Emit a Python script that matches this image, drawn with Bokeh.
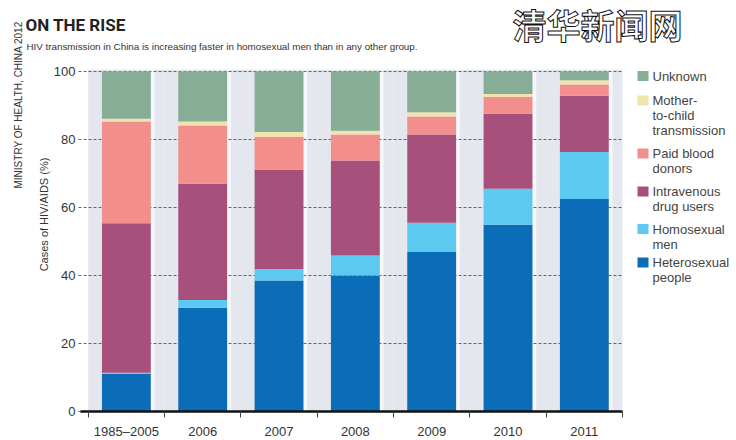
import math
from bokeh.plotting import figure
from bokeh.models import Range1d, FixedTicker, ColumnDataSource, Label, BoxAnnotation
from bokeh.embed import file_html
from bokeh.resources import INLINE

# ---------------- data ----------------
categories = ["1985\u20132005", "2006", "2007", "2008", "2009", "2010", "2011"]
heterosexual = [11.1, 30.5, 38.5, 40.0, 46.9, 54.9, 62.5]
homosexual = [0.3, 2.3, 3.4, 5.9, 8.6, 10.6, 13.8]
drug_users = [44.0, 34.2, 29.2, 27.9, 26.0, 22.1, 16.6]
blood_donors = [29.9, 17.1, 9.6, 7.7, 5.3, 4.9, 3.3]
mother_child = [0.8, 1.2, 1.5, 1.1, 1.2, 0.9, 1.2]
unknown = [13.9, 14.7, 17.8, 17.4, 12.0, 6.6, 2.6]
y_ticks = [0, 20, 40, 60, 80, 100]

series_keys = ["hetero", "homo", "idu", "blood", "mtc", "unknown"]
series_colors = ["#0b6db8", "#5cc9f1", "#a8507c", "#f28e8b", "#efe4ad", "#87ad96"]
legend_entries = [  # top to bottom
    (["Unknown"], "#87ad96"),
    (["Mother-", "to-child", "transmission"], "#efe4ad"),
    (["Paid blood", "donors"], "#f28e8b"),
    (["Intravenous", "drug users"], "#a8507c"),
    (["Homosexual", "men"], "#5cc9f1"),
    (["Heterosexual", "people"], "#0b6db8"),
]

# ---------------- layout helpers (canvas pixels -> data) ----------------
W, H = 736, 440
AXIS_X, AXIS_Y = 80, 411          # where the two axes sit
FIRST_EDGE, LAST_EDGE = 87.7, 622
PX_PER_UNIT_Y = 3.4
PITCH = (LAST_EDGE - FIRST_EDGE) / len(categories)


def dx(px):
    return -0.5 + (px - FIRST_EDGE) / PITCH


def dy(py):
    return (AXIS_Y - py) / PX_PER_UNIT_Y


XEND = len(categories) - 0.5
YTOP = 100 + 2 / PX_PER_UNIT_Y

p = figure(width=W, height=H, x_range=Range1d(dx(0), dx(W)), y_range=Range1d(dy(H), dy(0)),
           output_backend="svg", toolbar_location=None,
           min_border_left=0, min_border_right=0, min_border_top=0, min_border_bottom=0)
p.outline_line_color = None
p.background_fill_color = "white"
p.border_fill_color = "white"

xs = list(range(len(categories)))
BAR_W = 0.64

# background bands
p.quad(left=[i - 0.5 for i in xs], right=[i + 0.5 for i in xs], bottom=0, top=YTOP,
       fill_color="#e4e7ee", line_color=None, level="image")
p.quad(left=[i + BAR_W / 2 for i in xs], right=[i + BAR_W / 2 + 0.05 for i in xs], bottom=0, top=YTOP,
       fill_color="#f6f7fa", line_color=None, level="image")

# dashed value grid, limited to the bar area
p.xgrid.grid_line_color = None
p.ygrid.grid_line_color = None
p.segment(x0=dx(78), x1=XEND, y0=y_ticks, y1=y_ticks, line_color="#666666",
          line_dash="3 2", line_width=1, level="underlay")

src = ColumnDataSource(dict(x=xs, hetero=heterosexual, homo=homosexual, idu=drug_users,
                            blood=blood_donors, mtc=mother_child, unknown=unknown))
p.vbar_stack(series_keys, x="x", width=BAR_W, color=series_colors, line_color=None, source=src)

# y axis, fixed at the left edge of the bar area
p.yaxis.fixed_location = dx(AXIS_X)
p.yaxis.ticker = FixedTicker(ticks=y_ticks)
p.yaxis.axis_line_color = None
p.yaxis.major_tick_line_color = None
p.yaxis.major_tick_in = 0
p.yaxis.major_tick_out = 0
p.yaxis.minor_tick_line_color = None
p.yaxis.major_label_standoff = 5
p.yaxis.major_label_text_font = "Liberation Sans"
p.yaxis.major_label_text_font_size = "13px"
p.yaxis.major_label_text_color = "#333333"

# x axis fixed at zero: labels at category centres, ticks at category boundaries
p.xaxis.fixed_location = 0
p.xaxis.ticker = FixedTicker(ticks=xs, minor_ticks=[i - 0.5 for i in xs] + [XEND])
p.xaxis.major_label_overrides = {i: c for i, c in zip(xs, categories)}
p.xaxis.bounds = (dx(AXIS_X), XEND)
p.xaxis.axis_line_color = "#111111"
p.xaxis.axis_line_width = 2.5
p.xaxis.major_tick_line_color = None
p.xaxis.major_tick_in = 0
p.xaxis.major_tick_out = 0
p.xaxis.minor_tick_line_color = "#444444"
p.xaxis.minor_tick_line_width = 1
p.xaxis.minor_tick_in = 0
p.xaxis.minor_tick_out = 6
p.xaxis.major_label_standoff = 6
p.xaxis.major_label_text_font = "Liberation Sans"
p.xaxis.major_label_text_font_size = "13px"
p.xaxis.major_label_text_color = "#333333"

# legend
sw_centers = [75.5, 100, 153, 191, 228.5, 262]
for (lines, col), cy in zip(legend_entries, sw_centers):
    p.add_layout(BoxAnnotation(left=dx(637), right=dx(648), bottom=dy(cy + 5), top=dy(cy - 5),
                               fill_color=col, fill_alpha=1, line_color=None))
    for k, ln in enumerate(lines):
        p.add_layout(Label(x=dx(652), y=dy(cy + 15 * k), text=ln, text_align="left",
                           text_baseline="middle", text_font="Liberation Sans",
                           text_font_size="13px", text_color="#444444"))

# titles
p.add_layout(Label(x=dx(25), y=dy(24), text="ON THE RISE", text_align="left", text_baseline="middle",
                   text_font="Roboto", text_font_style="bold",
                   text_font_size="17px", text_color="#222222"))
p.add_layout(Label(x=dx(26), y=dy(46), text="HIV transmission in China is increasing faster in homosexual men than in any other group.",
                   text_align="left", text_baseline="middle", text_font="Liberation Sans",
                   text_font_size="9.8px", text_color="#333333"))
p.add_layout(Label(x=dx(597), y=dy(24), text="\u6e05\u534e\u65b0\u95fb\u7f51", text_align="center",
                   text_baseline="middle", text_font="Noto Sans CJK SC", text_font_style="bold",
                   text_font_size="34px", text_color="white", text_outline_color="#111111"))

# rotated side texts
p.add_layout(Label(x=dx(18), y=dy(188), text="MINISTRY OF HEALTH, CHINA 2012", angle=math.pi / 2,
                   text_align="left", text_baseline="middle", text_font="Liberation Sans",
                   text_font_size="10px", text_color="#333333"))
p.add_layout(Label(x=dx(43), y=dy(214), text="Cases of HIV/AIDS (%)", angle=math.pi / 2,
                   text_align="center", text_baseline="middle", text_font="Liberation Sans",
                   text_font_size="11px", text_color="#333333"))

open("out.html", "w").write(file_html(p, INLINE))
